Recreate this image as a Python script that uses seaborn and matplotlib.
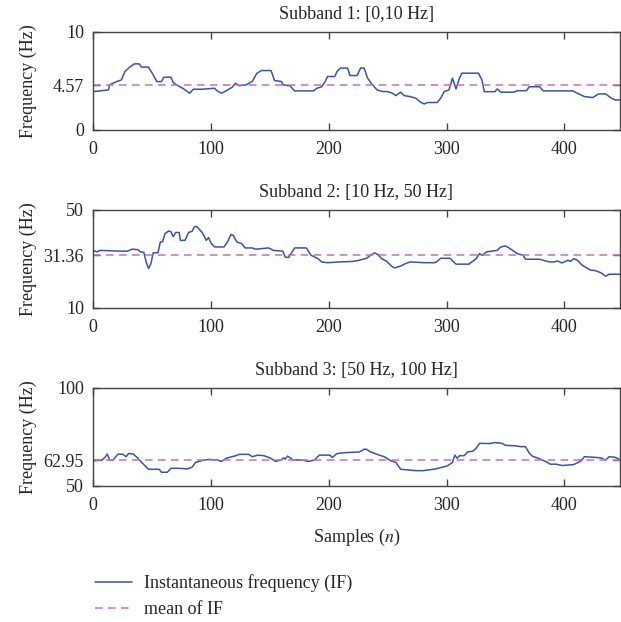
import pandas as pd
import matplotlib.pyplot as plt
import seaborn as sns

# breakpoints (samples, Hz)
x1 = [0, 13, 14, 20, 24, 27, 31, 35, 39, 41, 47, 51, 54, 58, 60, 66, 68, 72, 76, 82,
      85, 93, 103, 105, 109, 113, 118, 121, 124, 130, 135, 139, 143, 151, 154, 160, 161, 167, 171, 187,
      190, 194, 197, 199, 205, 207, 210, 216, 218, 224, 227, 230, 233, 237, 241, 246, 250, 254, 257, 261,
      264, 269, 274, 278, 281, 284, 292, 295, 298, 302, 305, 308, 311, 313, 327, 330, 332, 341, 343, 346,
      357, 360, 368, 370, 379, 382, 407, 410, 417, 424, 429, 435, 440, 443, 447]
y1 = [3.9, 4.08, 4.6, 4.93, 5.1, 5.95, 6.4, 6.73, 6.73, 6.4, 6.4, 5.6, 4.93, 4.93, 5.37, 5.37, 4.83, 4.5, 4.25, 3.74,
      4.15, 4.15, 4.25, 4.0, 3.74, 4.0, 4.35, 4.76, 4.5, 4.6, 4.93, 5.78, 6.05, 6.05, 5.03, 4.93, 4.6, 4.5, 3.98, 3.98,
      4.25, 4.4, 4.93, 5.44, 5.44, 5.95, 6.3, 6.3, 5.54, 5.54, 6.3, 6.3, 5.27, 4.6, 4.08, 3.91, 3.91, 3.74, 3.5, 3.85,
      3.5, 3.4, 3.23, 2.82, 2.65, 2.8, 2.8, 3.23, 3.91, 4.08, 5.27, 4.18, 5.3, 5.78, 5.78, 5.1, 3.9, 3.9, 4.18, 3.85,
      3.85, 4.0, 4.0, 4.4, 4.4, 3.98, 3.98, 3.8, 3.4, 3.3, 3.67, 3.67, 3.23, 3.06, 3.06]

x2 = [0, 3, 6, 23, 29, 33, 38, 40, 43, 45, 47, 49, 51, 55, 57, 59, 61, 64, 66, 68,
      70, 73, 74, 78, 81, 84, 86, 88, 91, 93, 96, 98, 100, 103, 111, 114, 117, 119, 122, 126,
      129, 135, 138, 149, 153, 161, 163, 166, 168, 171, 181, 185, 191, 194, 199, 209, 220, 226, 232, 236,
      239, 242, 245, 249, 254, 256, 261, 265, 269, 281, 290, 292, 295, 303, 308, 319, 325, 328, 330, 334,
      343, 346, 350, 353, 360, 365, 367, 379, 387, 391, 394, 398, 403, 405, 408, 411, 415, 422, 426, 431,
      435, 438, 447]
y2 = [33.4, 32.8, 33.4, 33.1, 33.1, 33.9, 33.7, 32.8, 32.6, 28.7, 26.0, 28.0, 32.4, 32.4, 36.8, 37.0, 40.2, 41.3, 41.0, 39.0,
      40.7, 40.7, 37.5, 37.5, 40.7, 41.2, 43.1, 43.1, 41.5, 40.4, 37.5, 38.6, 36.4, 34.8, 34.8, 36.8, 39.9, 39.5, 36.8, 36.2,
      34.4, 34.4, 33.9, 34.4, 33.4, 33.1, 30.7, 30.5, 32.1, 34.4, 34.4, 31.4, 30.0, 28.7, 28.4, 28.7, 28.9, 29.4, 30.2, 31.6,
      32.4, 31.6, 30.0, 29.0, 26.7, 26.3, 27.0, 28.0, 28.7, 28.4, 28.4, 28.9, 30.2, 30.2, 27.8, 27.8, 30.0, 32.1, 31.4, 32.8,
      33.4, 34.8, 35.2, 34.4, 32.1, 31.4, 29.8, 29.8, 28.7, 28.7, 29.1, 28.3, 29.4, 28.9, 30.0, 29.4, 27.4, 25.4, 25.2, 24.3,
      22.9, 23.7, 23.7]

x3 = [0, 4, 7, 10, 12, 14, 17, 21, 25, 28, 30, 34, 38, 42, 47, 56, 58, 63, 66, 73,
      80, 84, 87, 93, 98, 105, 109, 113, 121, 124, 132, 135, 140, 145, 150, 155, 159, 162, 163, 165,
      170, 177, 183, 188, 192, 201, 203, 207, 215, 226, 230, 232, 235, 241, 247, 253, 257, 261, 274, 280,
      291, 298, 301, 305, 307, 309, 311, 315, 318, 322, 325, 328, 337, 341, 347, 350, 359, 363, 367, 370,
      373, 378, 384, 388, 393, 398, 408, 414, 417, 425, 431, 435, 438, 443, 447]
y3 = [62.6, 63.1, 62.9, 64.4, 66.1, 63.1, 63.1, 66.1, 66.1, 64.8, 66.4, 66.2, 64.0, 61.4, 58.4, 58.4, 56.9, 56.9, 58.9, 58.9,
      58.6, 59.5, 61.9, 62.9, 63.4, 63.2, 62.4, 64.0, 65.3, 66.0, 66.0, 64.8, 65.6, 65.3, 64.2, 62.4, 63.1, 64.2, 63.5, 65.1,
      63.1, 63.1, 62.4, 63.2, 65.6, 65.6, 64.4, 66.4, 66.9, 67.2, 68.6, 68.6, 67.4, 66.0, 64.8, 62.6, 61.9, 58.4, 57.7, 57.7,
      58.6, 59.7, 60.2, 61.9, 65.6, 64.0, 65.3, 65.3, 67.3, 67.5, 69.0, 71.6, 71.5, 72.0, 71.6, 70.6, 70.3, 69.9, 69.9, 66.8,
      65.0, 64.0, 62.4, 61.0, 61.0, 60.3, 60.8, 62.6, 64.8, 64.5, 64.2, 63.1, 64.8, 64.5, 63.4]

titles = ["Subband 1: [0,10 Hz]", "Subband 2: [10 Hz, 50 Hz]", "Subband 3: [50 Hz, 100 Hz]"]
means = [4.57, 31.36, 62.95]
ylims = [(0, 10), (10, 50), (50, 100)]
xticks = [0, 100, 200, 300, 400]

sns.set_theme(style="ticks")
plt.rcParams['font.family'] = ['Liberation Serif', 'DejaVu Serif']
plt.rcParams['mathtext.fontset'] = 'stix'

FS = 13
IF_COLOR = "#3b52a8"
MEAN_COLOR = "#c572b6"
EDGE = "#444444"

fig = plt.figure(figsize=(6.21, 6.22), dpi=100)
bottoms = [0.791, 0.505, 0.219]
series = [(x1, y1), (x2, y2), (x3, y3)]

axes = []
for i, (xs, ys) in enumerate(series):
    ax = fig.add_axes([0.150, bottoms[i], 0.848, 0.158])
    df = pd.DataFrame({"n": xs, "f": ys})
    sns.lineplot(data=df, x="n", y="f", ax=ax, color=IF_COLOR, lw=1.1,
                 label="Instantaneous frequency (IF)")
    ax.axhline(means[i], color=MEAN_COLOR, lw=1.1, ls=(0, (5, 3.5)), label="mean of IF")
    lo, hi = ylims[i]
    ax.set_xlim(0, 447)
    ax.set_ylim(lo, hi)
    ax.set_xticks(xticks)
    ax.set_yticks([lo, means[i], hi])
    ax.set_yticklabels([f"{lo:g}", f"{means[i]:.2f}", f"{hi:g}"])
    ax.set_title(titles[i], fontsize=FS, pad=9)
    ax.set_ylabel("Frequency (Hz)", fontsize=FS)
    ax.yaxis.set_label_coords(-0.106, 0.5)
    ax.set_xlabel("")
    ax.tick_params(direction="in", top=True, right=True, length=5, width=1,
                   color=EDGE, labelsize=FS)
    ax.tick_params(axis="x", pad=8)
    ax.tick_params(axis="y", pad=6.5)
    for s in ax.spines.values():
        s.set_color(EDGE)
        s.set_linewidth(1.0)
    ax.get_legend().remove()
    axes.append(ax)

axes[-1].set_xlabel("Samples ($n$)", fontsize=FS, labelpad=9)

handles, labels = axes[0].get_legend_handles_labels()
fig.legend(handles, labels, loc="upper left", bbox_to_anchor=(0.142, 0.088),
           frameon=False, fontsize=FS, handlelength=2.0, handletextpad=0.67,
           labelspacing=0.5, borderaxespad=0)

fig.savefig("out.png", dpi=100)
